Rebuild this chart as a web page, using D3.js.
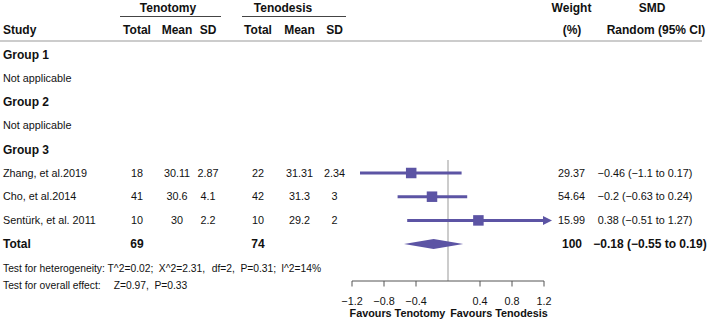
<!DOCTYPE html>
<html><head><meta charset="utf-8">
<script src="https://cdn.jsdelivr.net/npm/d3@7"></script>
<style>
html,body{margin:0;padding:0;background:#fff;}
svg{display:block;font-family:"Liberation Sans",Arial,Helvetica,sans-serif;}
</style></head>
<body>
<svg id="c" width="710" height="321"></svg>
<script>
const studies = ["Zhang, et al.2019", "Cho, et al.2014", "Sentürk, et al. 2011"];
const tenotomyTotal = [18, 41, 10];
const tenotomyMean = [30.11, 30.6, 30];
const tenotomySD = [2.87, 4.1, 2.2];
const tenodesisTotal = [22, 42, 10];
const tenodesisMean = [31.31, 31.3, 29.2];
const tenodesisSD = [2.34, 3, 2];
const weights = [29.37, 54.64, 15.99];
const smd = [-0.46, -0.2, 0.38];
const ciLow = [-1.1, -0.63, -0.51];
const ciHigh = [0.17, 0.24, 1.27];
const totalTenotomy = 69, totalTenodesis = 74, totalWeight = 100;
const pooled = [-0.18, -0.55, 0.19];
const groups = ["Group 1", "Group 2", "Group 3"];
const axisTicks = [-1.2, -0.8, -0.4, 0.4, 0.8, 1.2];
const heterogeneityParts = ["Test for heterogeneity: T^2=0.02;", "X^2=2.31,", "df=2,", "P=0.31;", "I^2=14%"];
const overallParts = ["Test for overall effect:", "Z=0.97,", "P=0.33"];

const svg = d3.select("#c");
const purple = "#5c54a4";
const ink = "#111";
const fmt = v => String(v).replace("-", "\u2212");
const x = d3.scaleLinear().domain([-1.2, 1.2]).range([352, 544]);
const rowY = i => 54.5 + 23.7 * i;

function txt(s, xp, yp, anchor, bold, size) {
  return svg.append("text").attr("x", xp).attr("y", yp).attr("dy", "0.35em")
    .attr("text-anchor", anchor || "start")
    .attr("font-weight", bold ? "bold" : "normal")
    .attr("font-size", size || 10.8).attr("fill", ink).text(s);
}
function spaced(parts, gaps, xp, yp, size) {
  const t = svg.append("text").attr("x", xp).attr("y", yp).attr("dy", "0.35em")
    .attr("font-size", size).attr("fill", ink);
  t.selectAll("tspan").data(parts).join("tspan")
    .attr("dx", (d, i) => i === 0 ? 0 : gaps[i - 1]).text(d => d);
  return t;
}

// headers
txt("Tenotomy", 168, 7.5, "middle", true, 12);
txt("Tenodesis", 283, 7.5, "middle", true, 12);
svg.append("line").attr("x1", 120).attr("x2", 221).attr("y1", 16.5).attr("y2", 16.5).attr("stroke", "#444").attr("stroke-width", 1);
svg.append("line").attr("x1", 242).attr("x2", 346).attr("y1", 16.5).attr("y2", 16.5).attr("stroke", "#444").attr("stroke-width", 1);
txt("Weight", 571.5, 7.5, "middle", true, 12);
txt("SMD", 652, 7.5, "middle", true, 12);
txt("Study", 3, 30, "start", true, 12);
const colX = [137, 177, 208, 258, 299.5, 334.5];
["Total", "Mean", "SD", "Total", "Mean", "SD"].forEach((h, i) => txt(h, colX[i], 30, "middle", true, 12));
txt("(%)", 572, 30, "middle", true, 12);
txt("Random (95% CI)", 656, 30, "middle", true, 12);
svg.append("line").attr("x1", 0).attr("x2", 702).attr("y1", 41).attr("y2", 41).attr("stroke", "#bbb").attr("stroke-width", 1.5);

// groups
txt(groups[0], 3, rowY(0), "start", true, 12);
txt("Not applicable", 3, rowY(1), "start", false);
txt(groups[1], 3, rowY(2), "start", true, 12);
txt("Not applicable", 3, rowY(3), "start", false);
txt(groups[2], 3, rowY(4), "start", true, 12);

// reference line
svg.append("line").attr("x1", x(0)).attr("x2", x(0)).attr("y1", 160).attr("y2", 281)
  .attr("stroke", "#999").attr("stroke-width", 1);

// study rows
studies.forEach((s, i) => {
  const y = rowY(5 + i);
  txt(s, 3, y, "start", false);
  const vals = [tenotomyTotal[i], tenotomyMean[i], tenotomySD[i], tenodesisTotal[i], tenodesisMean[i], tenodesisSD[i]];
  vals.forEach((v, j) => txt(fmt(v), colX[j], y, "middle", false));
  txt(fmt(weights[i]), 571.5, y, "middle", false);
  txt(`${fmt(smd[i])} (${fmt(ciLow[i])} to ${fmt(ciHigh[i])})`, 645, y, "middle", false);
  const hi = Math.min(ciHigh[i], 1.2), lo = Math.max(ciLow[i], -1.2);
  svg.append("line").attr("x1", x(lo)).attr("x2", x(hi)).attr("y1", y).attr("y2", y)
    .attr("stroke", purple).attr("stroke-width", 3);
  if (ciHigh[i] > 1.2) {
    const ax = x(1.2);
    svg.append("path").attr("d", `M${ax - 1},${y - 4.5} L${ax + 8},${y} L${ax - 1},${y + 4.5} Z`).attr("fill", purple);
  }
  const sz = 10.5;
  svg.append("rect").attr("x", x(smd[i]) - sz / 2).attr("y", y - sz / 2).attr("width", sz).attr("height", sz).attr("fill", purple);
});

// total
const ty = rowY(8);
txt("Total", 3, ty, "start", true, 12);
txt(String(totalTenotomy), colX[0], ty, "middle", true, 12);
txt(String(totalTenodesis), colX[3], ty, "middle", true, 12);
txt(String(totalWeight), 572, ty, "middle", true, 12);
txt(`${fmt(pooled[0])} (${fmt(pooled[1])} to ${fmt(pooled[2])})`, 650, ty, "middle", true, 12);
svg.append("path")
  .attr("d", `M${x(pooled[1])},${ty} L${x(pooled[0])},${ty - 5} L${x(pooled[2])},${ty} L${x(pooled[0])},${ty + 5} Z`)
  .attr("fill", purple);

spaced(heterogeneityParts, [5.5, 6.5, 5.5, 5], 3, 268, 10.3);
spaced(overallParts, [13, 5.5], 3, 285, 10.3);

// axis
const axisY = 281;
const g = svg.append("g").attr("transform", `translate(0,${axisY})`);
g.append("line").attr("x1", x(-1.2)).attr("x2", x(1.2)).attr("y1", 0).attr("y2", 0).attr("stroke", "#555");
g.selectAll("line.t").data(axisTicks).join("line").attr("class", "t")
  .attr("x1", d => x(d)).attr("x2", d => x(d)).attr("y1", 0).attr("y2", 5.5).attr("stroke", "#555");
g.selectAll("text").data(axisTicks).join("text")
  .attr("x", d => x(d)).attr("y", 20).attr("dy", "0.35em").attr("text-anchor", "middle")
  .attr("font-size", 10.8).attr("fill", ink).text(d => fmt(d));
txt("Favours Tenotomy", 397.5, 313, "middle", true, 10.8);
txt("Favours Tenodesis", 499, 313, "middle", true, 10.8);
</script>
</body></html>
